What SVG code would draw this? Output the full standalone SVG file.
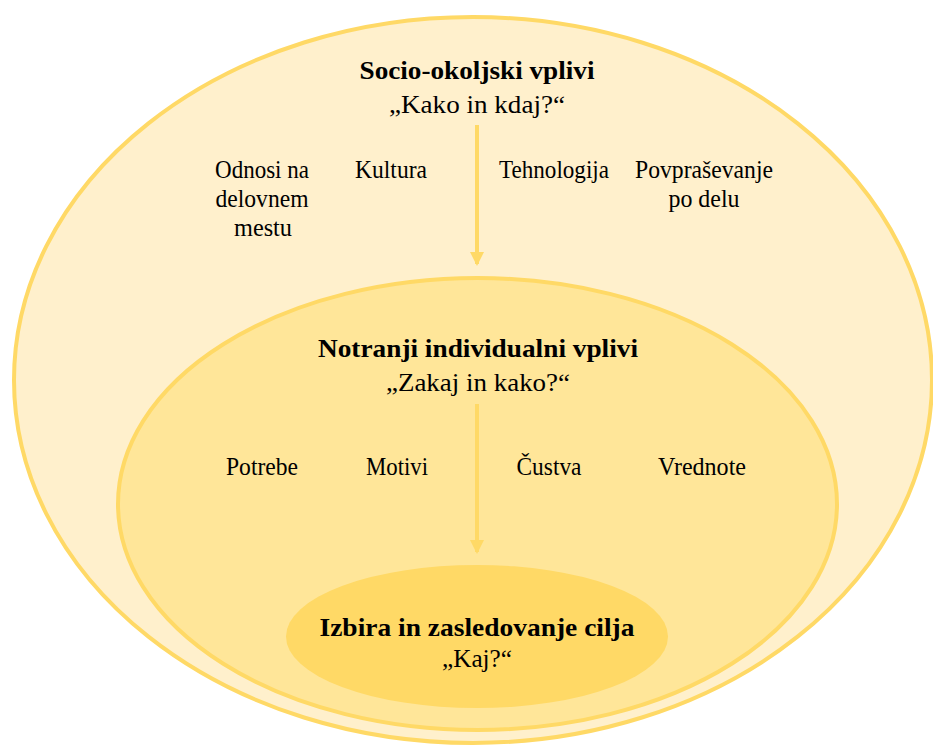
<svg xmlns="http://www.w3.org/2000/svg" width="933" height="745" viewBox="0 0 933 745">
  <defs>
    <marker id="arrow" viewBox="0 0 14 14" refX="12" refY="7" markerWidth="14" markerHeight="14" markerUnits="userSpaceOnUse" orient="auto">
      <path d="M0,0 L14,7 L0,14 Z" fill="#FFD966"/>
    </marker>
    <style>
      .ring { stroke: #FFD966; stroke-width: 4; }
      .outer { fill: #FFF0CC; }
      .middle { fill: #FFE699; }
      .core { fill: #FFD966; stroke: none; }
      .link { stroke: #FFD966; stroke-width: 4; fill: none; }
      text { font-family: "Liberation Serif", "Times New Roman", serif; fill: #000000; text-anchor: middle; }
      .title { font-size: 25px; font-weight: bold; }
      .sub { font-size: 25px; }
      .item { font-size: 25px; }
    </style>
  </defs>
  <rect width="933" height="745" fill="#FFFFFF"/>

  <!-- outer layer: socio-environmental influences -->
  <g id="socio">
    <ellipse class="ring outer" cx="473" cy="380" rx="459" ry="363"/>
    <text class="title" x="477" y="79" textLength="235" lengthAdjust="spacingAndGlyphs">Socio-okoljski vplivi</text>
    <text class="sub" x="477" y="113" textLength="176" lengthAdjust="spacingAndGlyphs">„Kako in kdaj?“</text>
    <text class="item" x="262" y="178" textLength="94" lengthAdjust="spacingAndGlyphs">Odnosi na</text>
    <text class="item" x="262" y="207" textLength="93" lengthAdjust="spacingAndGlyphs">delovnem</text>
    <text class="item" x="263" y="236" textLength="58" lengthAdjust="spacingAndGlyphs">mestu</text>
    <text class="item" x="391" y="178" textLength="72" lengthAdjust="spacingAndGlyphs">Kultura</text>
    <text class="item" x="554" y="178" textLength="110" lengthAdjust="spacingAndGlyphs">Tehnologija</text>
    <text class="item" x="704" y="178" textLength="138" lengthAdjust="spacingAndGlyphs">Povpraševanje</text>
    <text class="item" x="704" y="207" textLength="71" lengthAdjust="spacingAndGlyphs">po delu</text>
  </g>

  <!-- middle layer: inner individual influences -->
  <g id="individual">
    <ellipse class="ring middle" cx="477.5" cy="504" rx="359.5" ry="226"/>
    <text class="title" x="478" y="357" textLength="320" lengthAdjust="spacingAndGlyphs">Notranji individualni vplivi</text>
    <text class="sub" x="478" y="391" textLength="184" lengthAdjust="spacingAndGlyphs">„Zakaj in kako?“</text>
    <text class="item" x="262" y="475" textLength="72" lengthAdjust="spacingAndGlyphs">Potrebe</text>
    <text class="item" x="397" y="475" textLength="62" lengthAdjust="spacingAndGlyphs">Motivi</text>
    <text class="item" x="549" y="475" textLength="65" lengthAdjust="spacingAndGlyphs">Čustva</text>
    <text class="item" x="702" y="475" textLength="88" lengthAdjust="spacingAndGlyphs">Vrednote</text>
  </g>

  <!-- core: goal choice -->
  <g id="goal">
    <ellipse class="core" cx="477" cy="636.5" rx="191" ry="71.5"/>
    <text class="title" x="477" y="636" textLength="315" lengthAdjust="spacingAndGlyphs">Izbira in zasledovanje cilja</text>
    <text class="sub" x="477" y="667" textLength="70" lengthAdjust="spacingAndGlyphs">„Kaj?“</text>
  </g>

  <g id="connectors">
    <line class="link" x1="477" y1="125" x2="477" y2="264" marker-end="url(#arrow)"/>
    <line class="link" x1="477" y1="404" x2="477" y2="552" marker-end="url(#arrow)"/>
  </g>
</svg>
